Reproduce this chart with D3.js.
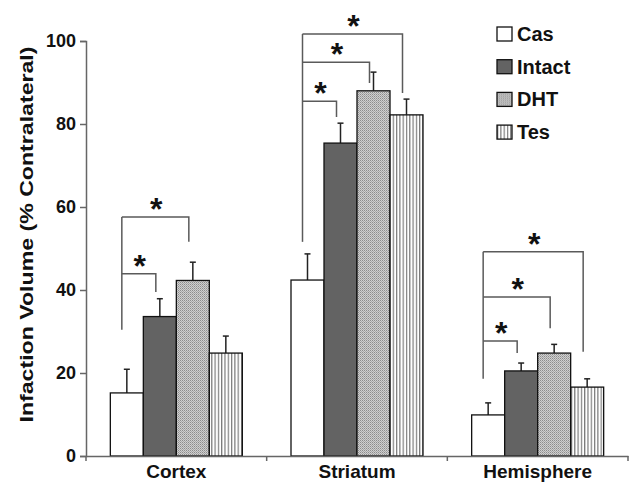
<!DOCTYPE html>
<html>
<head>
<meta charset="utf-8">
<script src="https://cdn.jsdelivr.net/npm/d3@7"></script>
<style>
  body { margin: 0; background: #fff; }
  text { font-family: "Liberation Sans", Arial, sans-serif; font-weight: bold; }
</style>
</head>
<body>
<div id="chart"></div>
<script>
// ---- data ----
const categories = ["Cortex", "Striatum", "Hemisphere"]
const groups = ["Cas", "Intact", "DHT", "Tes"]
const means = [
    [15.2, 33.6, 42.3, 24.8],   // Cortex
    [42.4, 75.4, 88.0, 82.2],   // Striatum
    [9.9, 20.5, 24.8, 16.6]     // Hemisphere
]
const errs = [
    [5.7, 4.3, 4.4, 4.1],
    [6.3, 4.8, 4.5, 3.8],
    [2.9, 1.9, 2.1, 2.0]
]
const yTicks = [0, 20, 40, 60, 80, 100]

// significance brackets: category, target group, top level, drop end
const sigCat = ["Cortex", "Cortex", "Striatum", "Striatum", "Striatum", "Hemisphere", "Hemisphere", "Hemisphere"]
const sigTo = ["Intact", "DHT", "Intact", "DHT", "Tes", "Intact", "DHT", "Tes"]
const sigTop = [43.9, 57.6, 85.5, 94.9, 101.7, 27.7, 38.3, 49.2]
const sigDrop = [39.5, 51.6, 81.7, 89.9, 87.5, 24.8, 30.8, 25.1]
const sigLeftBottom = { Cortex: 30.4, Striatum: 51.6, Hemisphere: 18.6 }

const width = 637, height = 484
const plot = { left: 86, right: 628, top: 41, bottom: 456 }

const svg = d3.select("#chart").append("svg")
    .attr("width", width)
    .attr("height", height)

// patterns for DHT (fine stipple hatch) and Tes (vertical stripes)
const defs = svg.append("defs")
const dht = defs.append("pattern").attr("id", "dht")
    .attr("patternUnits", "userSpaceOnUse").attr("width", 2).attr("height", 2)
dht.append("rect").attr("width", 2).attr("height", 2).attr("fill", "#cfcfcf")
dht.append("rect").attr("width", 1).attr("height", 1).attr("fill", "#8c8c8c")
dht.append("rect").attr("x", 1).attr("y", 1).attr("width", 1).attr("height", 1).attr("fill", "#a8a8a8")
const tes = defs.append("pattern").attr("id", "tes")
    .attr("patternUnits", "userSpaceOnUse").attr("width", 3.3).attr("height", 10)
tes.append("rect").attr("width", 3.3).attr("height", 10).attr("fill", "#fff")
tes.append("rect").attr("width", 1.2).attr("height", 10).attr("fill", "#7a7a7a")

const fills = { Cas: "#fff", Intact: "#636363", DHT: "url(#dht)", Tes: "url(#tes)" }

// scales
const x = d3.scaleBand().domain(categories).range([plot.left, plot.right])
const xs = d3.scaleBand().domain(groups).range([0, 132])
const y = d3.scaleLinear().domain([0, 100]).range([plot.bottom, plot.top])

const barX = (cat, g) => x(cat) + x.bandwidth() / 2 - 66 + xs(g)
const barMid = (cat, g) => barX(cat, g) + xs.bandwidth() / 2

// bars + error bars
categories.forEach((cat, ci) => {
    groups.forEach((g, gi) => {
        const v = means[ci][gi], e = errs[ci][gi]
        const cx = barMid(cat, g)
        svg.append("line")
            .attr("x1", cx).attr("x2", cx)
            .attr("y1", y(v)).attr("y2", y(v + e))
            .attr("stroke", "#222").attr("stroke-width", 1.5)
        svg.append("line")
            .attr("x1", cx - 3).attr("x2", cx + 3)
            .attr("y1", y(v + e)).attr("y2", y(v + e))
            .attr("stroke", "#222").attr("stroke-width", 1.5)
        svg.append("rect")
            .attr("x", barX(cat, g))
            .attr("y", y(v))
            .attr("width", xs.bandwidth())
            .attr("height", y(0) - y(v))
            .attr("fill", fills[g])
            .attr("stroke", "#111")
            .attr("stroke-width", 1.3)
    })
})

// significance brackets
const bracketColor = "#5a5a5a"
categories.forEach(cat => {
    const lx = barMid(cat, "Cas") - 5
    const tops = sigTop.filter((t, i) => sigCat[i] == cat)
    svg.append("line")
        .attr("x1", lx).attr("x2", lx)
        .attr("y1", y(sigLeftBottom[cat])).attr("y2", y(d3.max(tops)))
        .attr("stroke", bracketColor).attr("stroke-width", 1.5)
})
sigCat.forEach((cat, i) => {
    const lx = barMid(cat, "Cas") - 5
    const rx = barMid(cat, sigTo[i]) - 4
    svg.append("path")
        .attr("d", `M${lx},${y(sigTop[i])} H${rx} V${y(sigDrop[i])}`)
        .attr("fill", "none")
        .attr("stroke", bracketColor).attr("stroke-width", 1.5)
    svg.append("text")
        .attr("x", (lx + rx) / 2 + 1)
        .attr("y", y(sigTop[i]) + 3)
        .attr("text-anchor", "middle")
        .attr("font-size", 32)
        .attr("fill", "#111")
        .text("*")
})

// axes
const yAxis = svg.append("g")
    .attr("transform", `translate(${plot.left},0)`)
    .call(d3.axisLeft(y).tickValues(yTicks).tickSize(6).tickPadding(4))
yAxis.selectAll("path, line").attr("stroke", "#666").attr("stroke-width", 1.5)
yAxis.selectAll("text").attr("font-size", 18).attr("fill", "#111")
    .style("font-family", "'Liberation Sans', Arial, sans-serif").style("font-weight", "bold")

const xAxis = svg.append("g")
    .attr("transform", `translate(0,${plot.bottom})`)
    .call(d3.axisBottom(x).tickSize(0).tickPadding(9))
xAxis.select(".domain").attr("stroke", "#666").attr("stroke-width", 1.5)
xAxis.selectAll("text").attr("font-size", 19).attr("fill", "#111")
    .style("font-family", "'Liberation Sans', Arial, sans-serif").style("font-weight", "bold")
// boundary ticks between categories
const bounds = categories.map(c => x(c)).concat([plot.right])
svg.selectAll(".btick").data(bounds).enter().append("line")
    .attr("x1", d => d).attr("x2", d => d)
    .attr("y1", plot.bottom).attr("y2", plot.bottom + 5)
    .attr("stroke", "#666").attr("stroke-width", 1.5)

// y axis title
svg.append("text")
    .attr("transform", `translate(33,${(plot.top + plot.bottom) / 2 - 14}) rotate(-90)`)
    .attr("text-anchor", "middle")
    .attr("font-size", 19)
    .attr("textLength", 376)
    .attr("lengthAdjust", "spacingAndGlyphs")
    .attr("fill", "#111")
    .text("Infaction Volume (% Contralateral)")

// legend
const legend = svg.append("g").attr("transform", "translate(497,27)")
groups.forEach((g, i) => {
    const row = legend.append("g").attr("transform", `translate(0,${i * 32.7})`)
    row.append("rect")
        .attr("width", 15).attr("height", 14)
        .attr("fill", fills[g]).attr("stroke", "#111").attr("stroke-width", 1.3)
    row.append("text")
        .attr("x", 20).attr("y", 14)
        .attr("font-size", 20)
        .attr("fill", "#111")
        .text(g)
})
</script>
</body>
</html>
